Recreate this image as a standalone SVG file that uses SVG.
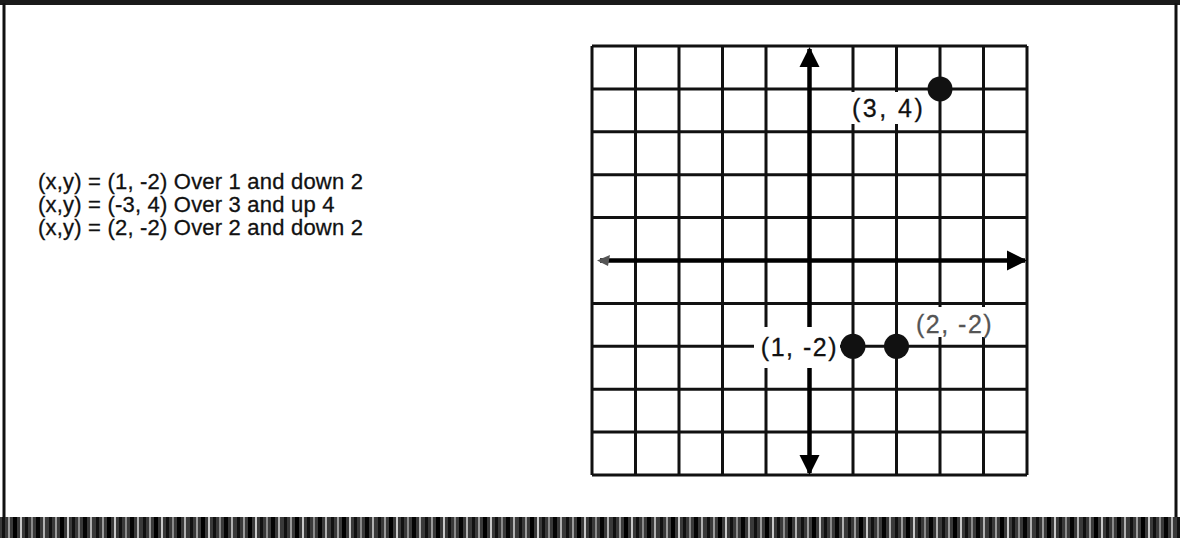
<svg xmlns="http://www.w3.org/2000/svg" width="1180" height="538" viewBox="0 0 1180 538">
  <style>
    .grid line { stroke: #111; stroke-width: 3; }
    .axis { stroke: #000; stroke-width: 4.5; fill: none; }
    .txt { font-family: "Liberation Sans", Arial, sans-serif; font-size: 22px; letter-spacing: 0.2px; fill: #111; stroke: #111; stroke-width: 0.3px; }
    .lbl { font-family: "Liberation Sans", Arial, sans-serif; font-size: 25px; letter-spacing: 1.5px; fill: #111; stroke: #111; stroke-width: 0.3px; }
    .bg { fill: #fff; }
    .dot { fill: #111; }
  </style>
  <defs>
    <marker id="ah" viewBox="0 0 10 10" refX="9" refY="5" markerWidth="4.5" markerHeight="4.5" orient="auto-start-reverse" markerUnits="strokeWidth">
      <path d="M0,0 L10,5 L0,10 z" fill="#000"/>
    </marker>
    <pattern id="noise" x="0" y="0" width="47" height="21" patternUnits="userSpaceOnUse">
      <rect width="47" height="21" fill="#3a3a3a"/>
      <rect x="2" width="3" height="21" fill="#111"/>
      <rect x="8" width="2" height="21" fill="#9a9a9a"/>
      <rect x="13" width="4" height="21" fill="#000"/>
      <rect x="20" width="2" height="21" fill="#c8c8c8"/>
      <rect x="25" width="3" height="21" fill="#111"/>
      <rect x="31" width="2" height="21" fill="#8a8a8a"/>
      <rect x="36" width="4" height="21" fill="#050505"/>
      <rect x="43" width="2" height="21" fill="#b0b0b0"/>
    </pattern>
  </defs>

  <rect width="1180" height="538" fill="#fff"/>

  <g id="frame">
    <rect x="0" y="0" width="1180" height="5" fill="#1a1a1a"/>
    <line x1="4" y1="3" x2="4" y2="518" stroke="#111" stroke-width="3"/>
    <line x1="1176" y1="3" x2="1176" y2="518" stroke="#111" stroke-width="3"/>
    <rect x="0" y="517" width="1180" height="21" fill="url(#noise)"/>
  </g>

  <g id="equations">
    <text class="txt" x="38" y="189">(x,y) = (1, -2) Over 1 and down 2</text>
    <text class="txt" x="38" y="212">(x,y) = (-3, 4) Over 3 and up 4</text>
    <text class="txt" x="38" y="235">(x,y) = (2, -2) Over 2 and down 2</text>
  </g>

  <g id="grid" class="grid">
    <line x1="592" y1="46" x2="592" y2="475"/>
    <line x1="635.5" y1="46" x2="635.5" y2="475"/>
    <line x1="679" y1="46" x2="679" y2="475"/>
    <line x1="722.5" y1="46" x2="722.5" y2="475"/>
    <line x1="766" y1="46" x2="766" y2="475"/>
    <line x1="853" y1="46" x2="853" y2="475"/>
    <line x1="896.5" y1="46" x2="896.5" y2="475"/>
    <line x1="940" y1="46" x2="940" y2="475"/>
    <line x1="983.5" y1="46" x2="983.5" y2="475"/>
    <line x1="1027" y1="46" x2="1027" y2="475"/>
    <line x1="592" y1="46" x2="1027" y2="46"/>
    <line x1="592" y1="88.9" x2="1027" y2="88.9"/>
    <line x1="592" y1="131.8" x2="1027" y2="131.8"/>
    <line x1="592" y1="174.7" x2="1027" y2="174.7"/>
    <line x1="592" y1="217.6" x2="1027" y2="217.6"/>
    <line x1="592" y1="303.4" x2="1027" y2="303.4"/>
    <line x1="592" y1="346.3" x2="1027" y2="346.3"/>
    <line x1="592" y1="389.2" x2="1027" y2="389.2"/>
    <line x1="592" y1="432.1" x2="1027" y2="432.1"/>
    <line x1="592" y1="475" x2="1027" y2="475"/>
  </g>

  <g id="axes">
    <line class="axis" x1="809.5" y1="49" x2="809.5" y2="473" marker-start="url(#ah)" marker-end="url(#ah)"/>
    <line class="axis" x1="600" y1="260.5" x2="1025" y2="260.5" marker-end="url(#ah)"/>
    <path d="M597,260.5 L610,255 L608,266 z" fill="#555"/>
  </g>

  <g id="point-3-4">
    <rect class="bg" x="846" y="92" width="84" height="32"/>
    <circle class="dot" cx="940" cy="88.9" r="12.5"/>
    <text class="lbl" x="852" y="117" style="letter-spacing:2.5px">(3, 4)</text>
  </g>
  <g id="point-1-m2">
    <rect class="bg" x="754" y="327" width="86" height="41"/>
    <circle class="dot" cx="853" cy="346.3" r="12.5"/>
    <text class="lbl" x="838" y="356" text-anchor="end">(1, -2)</text>
  </g>
  <g id="point-2-m2">
    <rect class="bg" x="912" y="307" width="88" height="30"/>
    <circle class="dot" cx="896.5" cy="346.3" r="12.5"/>
    <text class="lbl" x="916" y="333" style="fill:#555;stroke:#555">(2, -2)</text>
  </g>
</svg>
